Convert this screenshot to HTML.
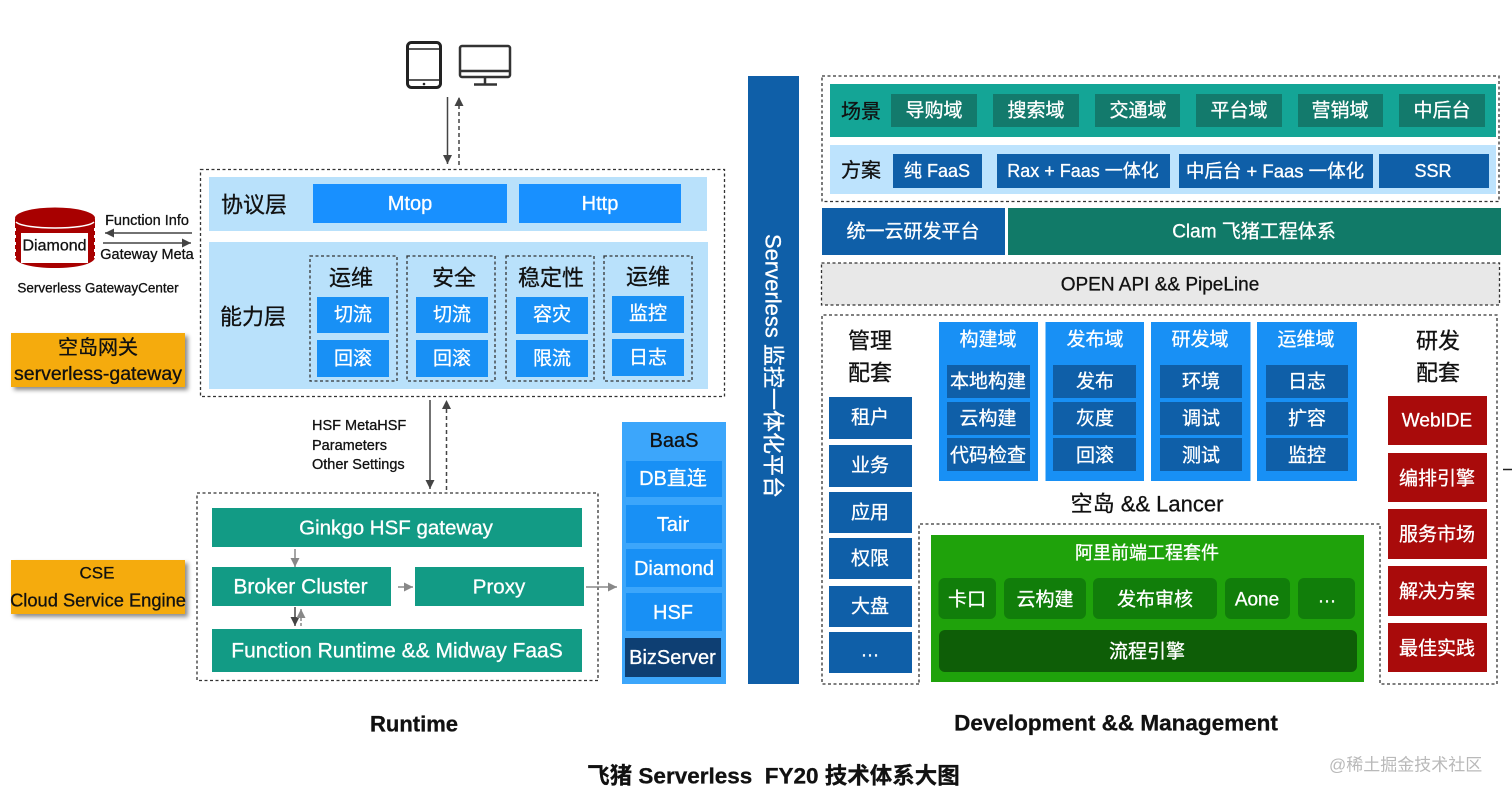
<!DOCTYPE html>
<html><head><meta charset="utf-8"><style>
html,body{margin:0;padding:0;background:#fff}
svg{display:block}
text{font-family:"Liberation Sans","Noto Sans CJK SC",sans-serif;text-anchor:middle;dominant-baseline:central;fill:#fff;stroke:#fff;stroke-width:.3}
.k{fill:#111;stroke:#111}
.l{text-anchor:start}
.d{fill:none;stroke:#333;stroke-width:1.3;stroke-dasharray:3 2.5}
.a{stroke:#444;stroke-width:1.5;fill:none}
.g{stroke:#888;stroke-width:1.5;fill:none}
.b{font-weight:bold}
</style></head><body>
<svg width="1512" height="798" viewBox="0 0 1512 798" xmlns="http://www.w3.org/2000/svg">
<defs>
<marker id="m" markerUnits="userSpaceOnUse" markerWidth="10" markerHeight="9" refX="9" refY="4.5" orient="auto"><path d="M0 0L9 4.5L0 9Z" fill="#444"/></marker>
<marker id="n" markerUnits="userSpaceOnUse" markerWidth="10" markerHeight="9" refX="9" refY="4.5" orient="auto"><path d="M0 0L9 4.5L0 9Z" fill="#888"/></marker>
<filter id="s" x="-5%" y="-10%" width="112%" height="130%"><feDropShadow dx="3" dy="3" stdDeviation="2" flood-color="#000" flood-opacity=".45"/></filter>
</defs>
<rect width="1512" height="798" fill="#fff"/>

<!-- devices -->
<rect x="407.5" y="42.5" width="33" height="45" rx="4" fill="none" stroke="#222" stroke-width="3"/>
<path d="M408 49H440M408 80H440" stroke="#222" stroke-width="1.5"/>
<circle cx="424" cy="84" r="1.3" fill="#222"/>
<rect x="460" y="46" width="50" height="31" rx="2" fill="none" stroke="#333" stroke-width="2.5"/>
<path d="M460 71H510M485 77V84M474 84.5H497" stroke="#333" stroke-width="2.5" fill="none"/>

<!-- arrows top -->
<path class="a" d="M447.500 97V164" marker-end="url(#m)"/>
<path class="a" d="M459 165V97" stroke-dasharray="4 3" marker-end="url(#m)"/>

<!-- runtime upper box -->
<rect class="d" x="200.500" y="169.500" width="524" height="227"/>
<rect x="209" y="177" width="498" height="54" fill="#b9e1fb"/>
<rect x="209" y="242" width="499" height="147" fill="#b9e1fb"/>
<text class="k" x="254" y="205" font-size="22">协议层</text>
<text class="k" x="253" y="317" font-size="22">能力层</text>
<rect x="313" y="184" width="194" height="39" fill="#1890ff"/><text x="410" y="204" font-size="20">Mtop</text>
<rect x="519" y="184" width="162" height="39" fill="#1890ff"/><text x="600" y="204" font-size="20">Http</text>

<rect class="d" x="310" y="256" width="87" height="125"/>
<rect class="d" x="407" y="256" width="88" height="125"/>
<rect class="d" x="506" y="256" width="88" height="125"/>
<rect class="d" x="604" y="256" width="88" height="125"/>
<text class="k" x="351" y="278" font-size="22">运维</text>
<text class="k" x="454" y="278" font-size="22">安全</text>
<text class="k" x="551" y="278" font-size="22">稳定性</text>
<text class="k" x="648" y="277" font-size="22">运维</text>
<g fill="#1890f5">
<rect x="317" y="297" width="72" height="36"/><rect x="317" y="340" width="72" height="37"/>
<rect x="416" y="297" width="72" height="36"/><rect x="416" y="340" width="72" height="37"/>
<rect x="516" y="297" width="72" height="37"/><rect x="516" y="340" width="72" height="37"/>
<rect x="612" y="296" width="72" height="37"/><rect x="612" y="339" width="72" height="37"/>
</g>
<g font-size="19">
<text x="353" y="315">切流</text><text x="353" y="359">回滚</text>
<text x="452" y="315">切流</text><text x="452" y="359">回滚</text>
<text x="552" y="315">容灾</text><text x="552" y="359">限流</text>
<text x="648" y="314">监控</text><text x="648" y="358">日志</text>
</g>

<!-- diamond -->
<path d="M15 219V257C15 264 33 268 55 268S95 264 95 257V219Z" fill="#a80000"/>
<path d="M15 228V258M95 228V258" stroke="#fff" stroke-width="2" stroke-dasharray="3 4"/>
<rect x="21" y="233" width="67" height="30" fill="#fff"/>
<ellipse cx="55" cy="218" rx="40" ry="10.500" fill="#a80000"/>
<path d="M16 222C24 230 86 230 94 222" fill="none" stroke="#fff" stroke-width="1.500"/>
<text class="k" x="54.500" y="246" font-size="16">Diamond</text>
<text class="k" x="147" y="221" font-size="14.500">Function Info</text>
<text class="k" x="147" y="255" font-size="14.500">Gateway Meta</text>
<text class="k" x="98" y="288" font-size="13.500">Serverless GatewayCenter</text>
<path class="a" d="M192 233H105" marker-end="url(#m)"/>
<path class="a" d="M103 243H191" marker-end="url(#m)"/>

<!-- orange -->
<rect x="11" y="333" width="174" height="54" fill="#f5ab0c" filter="url(#s)"/>
<text class="k" x="98" y="348" font-size="20">空岛网关</text>
<text class="k" x="98" y="374" font-size="19.500">serverless-gateway</text>
<rect x="11" y="560" width="174" height="54" fill="#f5ab0c" filter="url(#s)"/>
<text class="k" x="97" y="573" font-size="17">CSE</text>
<text class="k" x="98" y="600" font-size="18.300">Cloud Service Engine</text>

<!-- hsf arrows -->
<path class="a" d="M430 400V489" marker-end="url(#m)"/>
<path class="a" d="M446.500 490V400" stroke-dasharray="4 3" marker-end="url(#m)"/>
<text class="k l" x="312" y="426" font-size="14.500">HSF MetaHSF</text>
<text class="k l" x="312" y="446" font-size="14.500">Parameters</text>
<text class="k l" x="312" y="465" font-size="14.500">Other Settings</text>

<!-- runtime lower -->
<rect class="d" x="197" y="493" width="401" height="187.500"/>
<g fill="#129b85">
<rect x="212" y="508" width="370" height="39"/>
<rect x="212" y="567" width="179" height="39"/>
<rect x="415" y="567" width="169" height="39"/>
<rect x="212" y="629" width="370" height="43"/>
</g>
<text x="396" y="528" font-size="20.500">Ginkgo HSF gateway</text>
<text x="300.500" y="587" font-size="21">Broker Cluster</text>
<text x="499" y="587" font-size="20.500">Proxy</text>
<text x="397" y="651" font-size="21">Function Runtime &amp;&amp; Midway FaaS</text>
<path class="g" d="M295 549V567" marker-end="url(#n)"/>
<path class="g" d="M398 587H413" marker-end="url(#n)"/>
<path class="g" d="M586 587H617" marker-end="url(#n)"/>
<path class="a" d="M295 607V626" marker-end="url(#m)"/>
<path class="g" d="M301 626V609" stroke-dasharray="3 2" marker-end="url(#n)"/>

<!-- baas -->
<rect x="622" y="422" width="104" height="262" fill="#3ca6fb"/>
<text class="k" x="674" y="441" font-size="20">BaaS</text>
<g fill="#1890f5">
<rect x="626" y="461" width="96" height="36"/>
<rect x="626" y="505" width="96" height="38"/>
<rect x="626" y="549" width="96" height="38"/>
<rect x="626" y="593" width="96" height="38"/>
</g>
<rect x="625" y="638" width="96" height="39" fill="#0e3f73"/>
<g font-size="20">
<text x="673" y="479">DB直连</text>
<text x="673" y="525">Tair</text>
<text x="674" y="569">Diamond</text>
<text x="673" y="613">HSF</text>
<text x="672.500" y="658">BizServer</text>
</g>

<text class="k b" x="414" y="724" font-size="22">Runtime</text>
<text class="k b" x="1116" y="723" font-size="22.500">Development &amp;&amp; Management</text>
<text class="k b" x="773.500" y="776" font-size="22.500">飞猪 Serverless&#160; FY20 技术体系大图</text>
<text class="l" x="1329" y="765" font-size="17" style="fill:#b9b9b9;stroke:none">@稀土掘金技术社区</text>

<!-- bar -->
<rect x="748" y="76" width="51" height="608" fill="#0f5fa8"/>
<text transform="translate(773 366) rotate(90)" font-size="22">Serverless 监控一体化平台</text>

<!-- top right -->
<rect class="d" x="822" y="76" width="677" height="125.500"/>
<rect x="830" y="84" width="666" height="53" fill="#14a596"/>
<rect x="830" y="145" width="666" height="49" fill="#bde3fd"/>
<text class="k" x="861" y="112" font-size="20">场景</text>
<text class="k" x="861" y="171" font-size="20">方案</text>
<g fill="#137a6c">
<rect x="891" y="94" width="86" height="33"/><rect x="993" y="94" width="86" height="33"/><rect x="1095" y="94" width="85" height="33"/><rect x="1196" y="94" width="86" height="33"/><rect x="1298" y="94" width="85" height="33"/><rect x="1399" y="94" width="86" height="33"/>
</g>
<g font-size="19">
<text x="934" y="111">导购域</text><text x="1036" y="111">搜索域</text><text x="1138" y="111">交通域</text><text x="1239" y="111">平台域</text><text x="1340" y="111">营销域</text><text x="1442" y="111">中后台</text>
</g>
<g fill="#0f5fa8">
<rect x="893" y="154" width="89" height="34"/><rect x="997" y="154" width="173" height="34"/><rect x="1179" y="154" width="194" height="34"/><rect x="1379" y="154" width="110" height="34"/>
</g>
<g font-size="18">
<text x="937" y="171">纯 FaaS</text><text x="1083" y="171">Rax + Faas 一体化</text><text x="1275" y="171" font-size="18.500">中后台 + Faas 一体化</text><text x="1433" y="171">SSR</text>
</g>
<rect x="822" y="208" width="183" height="47" fill="#0f5fa8"/>
<rect x="1008" y="208" width="493" height="47" fill="#117a68"/>
<text x="913" y="232" font-size="19">统一云研发平台</text>
<text x="1254" y="232" font-size="19">Clam 飞猪工程体系</text>
<rect class="d" x="821.500" y="263" width="678" height="42" style="fill:#e8e8e8"/>
<text class="k" x="1160" y="285" font-size="19">OPEN API &amp;&amp; PipeLine</text>

<!-- lower right -->
<path class="d" d="M919 684H822V315H1497V684H1380V524H919Z"/>
<text class="k" x="870" y="341" font-size="22">管理</text>
<text class="k" x="870" y="373" font-size="22">配套</text>
<text class="k" x="1438" y="341" font-size="22">研发</text>
<text class="k" x="1438" y="373" font-size="22">配套</text>
<g fill="#0f5fa8">
<rect x="829" y="397" width="83" height="42"/><rect x="829" y="445" width="83" height="42"/><rect x="829" y="492" width="83" height="41"/><rect x="829" y="538" width="83" height="41"/><rect x="829" y="586" width="83" height="41"/><rect x="829" y="632" width="83" height="41"/>
</g>
<g font-size="19">
<text x="870" y="418">租户</text><text x="870" y="466">业务</text><text x="870" y="513">应用</text><text x="870" y="559">权限</text><text x="870" y="607">大盘</text><text x="870" y="651">…</text>
</g>
<g fill="#a90b0b">
<rect x="1388" y="396" width="99" height="49"/><rect x="1388" y="453" width="99" height="49"/><rect x="1388" y="509" width="99" height="50"/><rect x="1388" y="566" width="99" height="50"/><rect x="1388" y="623" width="99" height="49"/>
</g>
<g font-size="19">
<text x="1437" y="421">WebIDE</text><text x="1437" y="479">编排引擎</text><text x="1437" y="535">服务市场</text><text x="1437" y="592">解决方案</text><text x="1437" y="649">最佳实践</text>
</g>
<path d="M1503 469.500H1512" stroke="#222" stroke-width="1.500"/>

<g fill="#1890f5">
<rect x="939" y="322" width="99" height="159"/><rect x="1045.500" y="322" width="98.500" height="159"/><rect x="1151" y="322" width="99.500" height="159"/><rect x="1257" y="322" width="100" height="159"/>
</g>
<g font-size="19">
<text x="988" y="340">构建域</text><text x="1095" y="340">发布域</text><text x="1200" y="340">研发域</text><text x="1306" y="340">运维域</text>
</g>
<g fill="#0f5fa8">
<rect x="947" y="365" width="83" height="33"/><rect x="947" y="402" width="83" height="33"/><rect x="947" y="438" width="83" height="33"/>
<rect x="1053" y="365" width="83" height="33"/><rect x="1053" y="402" width="83" height="33"/><rect x="1053" y="438" width="83" height="33"/>
<rect x="1160" y="365" width="82" height="33"/><rect x="1160" y="402" width="82" height="33"/><rect x="1160" y="438" width="82" height="33"/>
<rect x="1266" y="365" width="82" height="33"/><rect x="1266" y="402" width="82" height="33"/><rect x="1266" y="438" width="82" height="33"/>
</g>
<g font-size="19">
<text x="988" y="382">本地构建</text><text x="988" y="419">云构建</text><text x="988" y="456">代码检查</text>
<text x="1095" y="382">发布</text><text x="1095" y="419">灰度</text><text x="1095" y="456">回滚</text>
<text x="1201" y="382">环境</text><text x="1201" y="419">调试</text><text x="1201" y="456">测试</text>
<text x="1307" y="382">日志</text><text x="1307" y="419">扩容</text><text x="1307" y="456">监控</text>
</g>
<text class="k" x="1147" y="504" font-size="22">空岛 &amp;&amp; Lancer</text>

<rect x="931" y="535" width="433" height="147" fill="#1fa20b"/>
<text x="1147" y="553" font-size="18">阿里前端工程套件</text>
<g fill="#117e0a">
<rect x="938.500" y="578" width="57.500" height="41" rx="6"/><rect x="1004" y="578" width="82" height="41" rx="6"/><rect x="1093" y="578" width="124" height="41" rx="6"/><rect x="1225" y="578" width="65" height="41" rx="6"/><rect x="1298" y="578" width="57" height="41" rx="6"/>
</g>
<rect x="939" y="630" width="418" height="42" rx="6" fill="#0e5e07"/>
<g font-size="19">
<text x="967" y="600">卡口</text><text x="1045" y="600">云构建</text><text x="1155" y="600">发布审核</text><text x="1257" y="600">Aone</text><text x="1327" y="597">…</text><text x="1147" y="652">流程引擎</text>
</g>
</svg>
</body></html>
